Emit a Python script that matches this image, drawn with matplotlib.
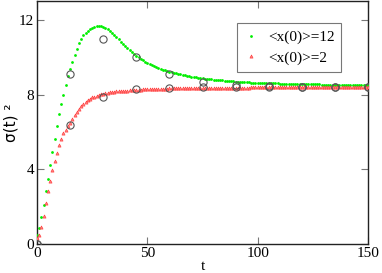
import matplotlib
matplotlib.use("Agg")
import matplotlib.pyplot as plt
import numpy as np

# simulation time grid
t_sim = list(range(0, 151))

green_12 = [
    0.50, 0.85, 1.45, 2.10, 2.85, 3.50, 4.25, 4.95, 5.60, 6.30,
    6.95, 7.50, 8.00, 8.50, 9.00, 9.40, 9.75, 10.10, 10.45, 10.75,
    11.00, 11.20, 11.32, 11.42, 11.50, 11.57, 11.62, 11.66, 11.68, 11.68,
    11.64, 11.58, 11.50, 11.41, 11.31, 11.20, 11.08, 10.96, 10.84, 10.72,
    10.60, 10.49, 10.38, 10.27, 10.17, 10.08, 9.99, 9.91, 9.83, 9.76,
    9.69, 9.63, 9.57, 9.52, 9.47, 9.42, 9.38, 9.34, 9.30, 9.26,
    9.23, 9.20, 9.17, 9.14, 9.11, 9.08, 9.06, 9.03, 9.01, 8.99,
    8.97, 8.95, 8.93, 8.91, 8.89, 8.88, 8.86, 8.85, 8.83, 8.82,
    8.81, 8.79, 8.78, 8.77, 8.76, 8.75, 8.74, 8.73, 8.72, 8.71,
    8.70, 8.69, 8.69, 8.68, 8.67, 8.67, 8.66, 8.65, 8.65, 8.64,
    8.64, 8.63, 8.63, 8.62, 8.62, 8.61, 8.61, 8.60, 8.60, 8.60,
    8.59, 8.59, 8.59, 8.58, 8.58, 8.58, 8.57, 8.57, 8.57, 8.57,
    8.56, 8.56, 8.56, 8.56, 8.55, 8.55, 8.55, 8.55, 8.55, 8.54,
    8.54, 8.54, 8.54, 8.54, 8.54, 8.53, 8.53, 8.53, 8.53, 8.53,
    8.53, 8.53, 8.52, 8.52, 8.52, 8.52, 8.52, 8.52, 8.52, 8.52,
    8.52,
]

red_2 = [
    0.30, 0.50, 0.90, 1.50, 2.20, 2.85, 3.40, 3.95, 4.45, 4.88,
    5.28, 5.62, 5.95, 6.12, 6.30, 6.50, 6.70, 6.90, 7.08, 7.25,
    7.40, 7.52, 7.62, 7.71, 7.79, 7.85, 7.90, 7.94, 7.98, 8.02,
    8.05, 8.08, 8.10, 8.12, 8.14, 8.16, 8.17, 8.18, 8.19, 8.20,
    8.21, 8.22, 8.23, 8.24, 8.25, 8.26, 8.27, 8.27, 8.28, 8.28,
    8.29, 8.29, 8.30, 8.30, 8.31, 8.31, 8.31, 8.32, 8.32, 8.32,
    8.33, 8.33, 8.33, 8.33, 8.34, 8.34, 8.34, 8.34, 8.35, 8.35,
    8.35, 8.35, 8.35, 8.36, 8.36, 8.36, 8.36, 8.36, 8.36, 8.37,
    8.37, 8.37, 8.37, 8.37, 8.37, 8.37, 8.37, 8.38, 8.38, 8.38,
    8.38, 8.38, 8.38, 8.38, 8.38, 8.38, 8.38, 8.39, 8.39, 8.39,
    8.39, 8.39, 8.39, 8.39, 8.39, 8.39, 8.39, 8.39, 8.39, 8.39,
    8.39, 8.39, 8.39, 8.39, 8.39, 8.40, 8.40, 8.40, 8.40, 8.40,
    8.40, 8.40, 8.40, 8.40, 8.40, 8.40, 8.40, 8.40, 8.40, 8.40,
    8.40, 8.40, 8.40, 8.40, 8.40, 8.40, 8.40, 8.40, 8.40, 8.40,
    8.40, 8.40, 8.40, 8.40, 8.40, 8.40, 8.40, 8.40, 8.40, 8.40,
    8.40,
]

# reference (circle) points
t_ref = [0, 15, 30, 45, 60, 75, 90, 105, 120, 135, 150]
ref_12 = [0.0, 9.10, 10.98, 10.03, 9.10, 8.70, 8.52, 8.45, 8.43, 8.42, 8.40]
ref_2 = [0.0, 6.38, 7.87, 8.28, 8.37, 8.40, 8.41, 8.41, 8.41, 8.41, 8.41]

labels = ["<x(0)>=12", "<x(0)>=2"]
x_ticks = [0, 50, 100, 150]
y_ticks = [0, 4, 8, 12]

fig = plt.figure(figsize=(3.82, 2.73), dpi=100)
ax = fig.add_axes([37 / 382, 1 - 244 / 273, 331 / 382, 242.7 / 273])

serif = "Liberation Serif"

ax.plot(t_sim, green_12, linestyle="none", marker="o", ms=2.0,
        color="#00ee00", mec="#00ee00", mew=0, label=labels[0], zorder=3)
ax.plot(t_sim, red_2, linestyle="none", marker="^", ms=2.3,
        color="#ff8080", mec="#ff3030", mew=0.4, label=labels[1], zorder=3)
ax.plot(t_ref, ref_12, linestyle="none", marker="o", ms=5.2,
        mfc="none", mec="#555555", mew=0.8, zorder=4)
ax.plot(t_ref, ref_2, linestyle="none", marker="o", ms=5.2,
        mfc="none", mec="#555555", mew=0.8, zorder=4)

ax.set_xlim(0, 150)
ax.set_ylim(0, 13)
ax.set_xticks(x_ticks)
ax.set_yticks(y_ticks)
ax.tick_params(direction="in", length=5, width=0.8, color="#777777",
               top=True, right=True, labelsize=11, pad=2)
for lab in ax.get_xticklabels() + ax.get_yticklabels():
    lab.set_fontfamily(serif)
for s in ax.spines.values():
    s.set_linewidth(1.0)
    s.set_color("#222222")

ax.set_xlabel("t", fontfamily=serif, fontsize=11, labelpad=0)
ax.set_ylabel("σ(t) ²", fontfamily="DejaVu Sans", fontsize=11)
ax.yaxis.set_label_coords(-0.055, 0.5)

leg = ax.legend(loc="upper left", bbox_to_anchor=(0.603, 0.909),
                borderaxespad=0, frameon=True, fancybox=False,
                prop={"family": serif, "size": 11}, handlelength=1.0,
                handletextpad=0.6, borderpad=0.45, labelspacing=0.45,
                markerscale=1.0)
leg.get_frame().set_edgecolor("#555555")
leg.get_frame().set_linewidth(0.8)

fig.savefig("out.png", dpi=100)
